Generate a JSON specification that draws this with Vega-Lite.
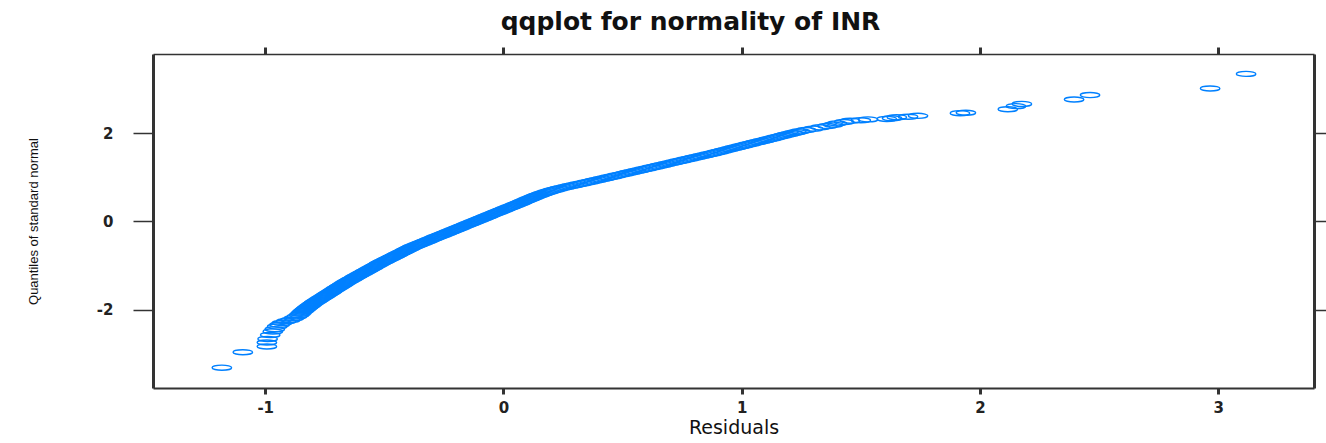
{
  "$schema": "https://vega.github.io/schema/vega-lite/v6.json",
  "autosize": {"type": "none"},
  "width": 1161,
  "height": 334,
  "padding": {"left": 153, "top": 54, "right": 12, "bottom": 55},
  "background": "white",
  "config": {"view": {"stroke": null}},
  "title": {"text": "qqplot for normality of INR", "font": "DejaVu Sans", "fontSize": 25, "fontWeight": "bold", "color": "#111111", "anchor": "middle", "frame": "group", "dx": -43, "offset": 11},
  "data": {"values": [
    {"res": -1.182, "qn": -3.31}, {"res": -1.094, "qn": -2.96}, {"res": -0.993, "qn": -2.83}, {"res": -0.993, "qn": -2.74},
    {"res": -0.99, "qn": -2.66}, {"res": -0.979, "qn": -2.57}, {"res": -0.968, "qn": -2.49}, {"res": -0.96, "qn": -2.44},
    {"res": -0.95, "qn": -2.38}, {"res": -0.94, "qn": -2.34}, {"res": -0.93, "qn": -2.30}, {"res": -0.912, "qn": -2.26},
    {"res": -0.895, "qn": -2.23}, {"res": -0.88, "qn": -2.19}, {"res": -0.867, "qn": -2.15}, {"res": -0.858, "qn": -2.12},
    {"res": -0.852, "qn": -2.09}, {"res": -0.848, "qn": -2.065},
    {"res": -0.843, "qn": -2.04}, {"res": -0.838, "qn": -2.02}, {"res": -0.834, "qn": -2.00}, {"res": -0.829, "qn": -1.98},
    {"res": -0.825, "qn": -1.96}, {"res": -0.820, "qn": -1.94}, {"res": -0.815, "qn": -1.92}, {"res": -0.810, "qn": -1.90},
    {"res": -0.805, "qn": -1.88}, {"res": -0.800, "qn": -1.86}, {"res": -0.795, "qn": -1.84}, {"res": -0.789, "qn": -1.82},
    {"res": -0.783, "qn": -1.80}, {"res": -0.777, "qn": -1.78}, {"res": -0.772, "qn": -1.76}, {"res": -0.766, "qn": -1.74},
    {"res": -0.760, "qn": -1.72}, {"res": -0.754, "qn": -1.70}, {"res": -0.748, "qn": -1.68}, {"res": -0.743, "qn": -1.66},
    {"res": -0.737, "qn": -1.64}, {"res": -0.731, "qn": -1.62}, {"res": -0.725, "qn": -1.60}, {"res": -0.719, "qn": -1.58},
    {"res": -0.714, "qn": -1.56}, {"res": -0.708, "qn": -1.54}, {"res": -0.702, "qn": -1.52}, {"res": -0.696, "qn": -1.50},
    {"res": -0.690, "qn": -1.48}, {"res": -0.684, "qn": -1.46}, {"res": -0.678, "qn": -1.44}, {"res": -0.672, "qn": -1.42},
    {"res": -0.667, "qn": -1.40}, {"res": -0.661, "qn": -1.38}, {"res": -0.655, "qn": -1.36}, {"res": -0.648, "qn": -1.34},
    {"res": -0.642, "qn": -1.32}, {"res": -0.635, "qn": -1.30}, {"res": -0.628, "qn": -1.28}, {"res": -0.622, "qn": -1.26},
    {"res": -0.615, "qn": -1.24}, {"res": -0.608, "qn": -1.22}, {"res": -0.602, "qn": -1.20}, {"res": -0.595, "qn": -1.18},
    {"res": -0.588, "qn": -1.16}, {"res": -0.582, "qn": -1.14}, {"res": -0.575, "qn": -1.12}, {"res": -0.568, "qn": -1.10},
    {"res": -0.562, "qn": -1.08}, {"res": -0.555, "qn": -1.06}, {"res": -0.548, "qn": -1.04}, {"res": -0.542, "qn": -1.02},
    {"res": -0.535, "qn": -1.00}, {"res": -0.528, "qn": -0.98}, {"res": -0.522, "qn": -0.96}, {"res": -0.515, "qn": -0.94},
    {"res": -0.508, "qn": -0.92}, {"res": -0.500, "qn": -0.90}, {"res": -0.493, "qn": -0.88}, {"res": -0.486, "qn": -0.86},
    {"res": -0.478, "qn": -0.84}, {"res": -0.471, "qn": -0.82}, {"res": -0.464, "qn": -0.80}, {"res": -0.456, "qn": -0.78},
    {"res": -0.449, "qn": -0.76}, {"res": -0.442, "qn": -0.74}, {"res": -0.434, "qn": -0.72}, {"res": -0.427, "qn": -0.70},
    {"res": -0.419, "qn": -0.68}, {"res": -0.412, "qn": -0.66}, {"res": -0.405, "qn": -0.64}, {"res": -0.397, "qn": -0.62},
    {"res": -0.390, "qn": -0.60}, {"res": -0.383, "qn": -0.58}, {"res": -0.374, "qn": -0.56}, {"res": -0.365, "qn": -0.54},
    {"res": -0.356, "qn": -0.52}, {"res": -0.347, "qn": -0.50}, {"res": -0.338, "qn": -0.48}, {"res": -0.329, "qn": -0.46},
    {"res": -0.320, "qn": -0.44}, {"res": -0.311, "qn": -0.42}, {"res": -0.302, "qn": -0.40}, {"res": -0.293, "qn": -0.38},
    {"res": -0.284, "qn": -0.36}, {"res": -0.275, "qn": -0.34}, {"res": -0.265, "qn": -0.32}, {"res": -0.256, "qn": -0.30},
    {"res": -0.247, "qn": -0.28}, {"res": -0.238, "qn": -0.26}, {"res": -0.229, "qn": -0.24}, {"res": -0.220, "qn": -0.22},
    {"res": -0.211, "qn": -0.20}, {"res": -0.202, "qn": -0.18}, {"res": -0.193, "qn": -0.16}, {"res": -0.184, "qn": -0.14},
    {"res": -0.175, "qn": -0.12}, {"res": -0.166, "qn": -0.10}, {"res": -0.157, "qn": -0.08}, {"res": -0.147, "qn": -0.06},
    {"res": -0.138, "qn": -0.04}, {"res": -0.129, "qn": -0.02}, {"res": -0.120, "qn": 0.00}, {"res": -0.111, "qn": 0.02},
    {"res": -0.102, "qn": 0.04}, {"res": -0.093, "qn": 0.06}, {"res": -0.084, "qn": 0.08}, {"res": -0.075, "qn": 0.10},
    {"res": -0.066, "qn": 0.12}, {"res": -0.057, "qn": 0.14}, {"res": -0.048, "qn": 0.16}, {"res": -0.039, "qn": 0.18},
    {"res": -0.029, "qn": 0.20}, {"res": -0.020, "qn": 0.22}, {"res": -0.011, "qn": 0.24}, {"res": -0.002, "qn": 0.26},
    {"res": 0.007, "qn": 0.28}, {"res": 0.016, "qn": 0.30}, {"res": 0.025, "qn": 0.32}, {"res": 0.034, "qn": 0.34},
    {"res": 0.043, "qn": 0.36}, {"res": 0.052, "qn": 0.38}, {"res": 0.061, "qn": 0.40}, {"res": 0.070, "qn": 0.42},
    {"res": 0.079, "qn": 0.44}, {"res": 0.087, "qn": 0.46}, {"res": 0.096, "qn": 0.48}, {"res": 0.105, "qn": 0.50},
    {"res": 0.114, "qn": 0.52}, {"res": 0.123, "qn": 0.54}, {"res": 0.131, "qn": 0.56}, {"res": 0.140, "qn": 0.58},
    {"res": 0.150, "qn": 0.60}, {"res": 0.160, "qn": 0.62}, {"res": 0.170, "qn": 0.64}, {"res": 0.181, "qn": 0.66},
    {"res": 0.192, "qn": 0.68}, {"res": 0.204, "qn": 0.70}, {"res": 0.217, "qn": 0.72}, {"res": 0.231, "qn": 0.74},
    {"res": 0.246, "qn": 0.76}, {"res": 0.262, "qn": 0.78}, {"res": 0.279, "qn": 0.80}, {"res": 0.296, "qn": 0.82},
    {"res": 0.313, "qn": 0.84}, {"res": 0.330, "qn": 0.86}, {"res": 0.347, "qn": 0.88}, {"res": 0.363, "qn": 0.90},
    {"res": 0.379, "qn": 0.92}, {"res": 0.395, "qn": 0.94}, {"res": 0.411, "qn": 0.96}, {"res": 0.427, "qn": 0.98},
    {"res": 0.443, "qn": 1.00}, {"res": 0.459, "qn": 1.02}, {"res": 0.475, "qn": 1.04}, {"res": 0.492, "qn": 1.06},
    {"res": 0.508, "qn": 1.08}, {"res": 0.524, "qn": 1.10}, {"res": 0.540, "qn": 1.12}, {"res": 0.556, "qn": 1.14},
    {"res": 0.572, "qn": 1.16}, {"res": 0.588, "qn": 1.18}, {"res": 0.604, "qn": 1.20}, {"res": 0.620, "qn": 1.22},
    {"res": 0.636, "qn": 1.24}, {"res": 0.652, "qn": 1.26}, {"res": 0.668, "qn": 1.28}, {"res": 0.684, "qn": 1.30},
    {"res": 0.700, "qn": 1.32}, {"res": 0.716, "qn": 1.34}, {"res": 0.733, "qn": 1.36}, {"res": 0.749, "qn": 1.38},
    {"res": 0.765, "qn": 1.40}, {"res": 0.781, "qn": 1.42}, {"res": 0.797, "qn": 1.44}, {"res": 0.813, "qn": 1.46},
    {"res": 0.829, "qn": 1.48}, {"res": 0.845, "qn": 1.50}, {"res": 0.861, "qn": 1.52}, {"res": 0.877, "qn": 1.54},
    {"res": 0.892, "qn": 1.56}, {"res": 0.906, "qn": 1.58}, {"res": 0.921, "qn": 1.60}, {"res": 0.936, "qn": 1.62},
    {"res": 0.950, "qn": 1.64}, {"res": 0.965, "qn": 1.66}, {"res": 0.980, "qn": 1.68}, {"res": 0.995, "qn": 1.70},
    {"res": 1.009, "qn": 1.72}, {"res": 1.024, "qn": 1.74}, {"res": 1.039, "qn": 1.76}, {"res": 1.053, "qn": 1.78},
    {"res": 1.068, "qn": 1.80}, {"res": 1.083, "qn": 1.82}, {"res": 1.098, "qn": 1.84}, {"res": 1.112, "qn": 1.86},
    {"res": 1.127, "qn": 1.88}, {"res": 1.142, "qn": 1.90}, {"res": 1.157, "qn": 1.92}, {"res": 1.171, "qn": 1.94},
    {"res": 1.186, "qn": 1.96}, {"res": 1.201, "qn": 1.98}, {"res": 1.215, "qn": 2.00}, {"res": 1.230, "qn": 2.02},
    {"res": 1.245, "qn": 2.04}, {"res": 1.27, "qn": 2.07}, {"res": 1.30, "qn": 2.10}, {"res": 1.33, "qn": 2.13},
    {"res": 1.36, "qn": 2.16}, {"res": 1.384, "qn": 2.19}, {"res": 1.40, "qn": 2.22}, {"res": 1.43, "qn": 2.25},
    {"res": 1.455, "qn": 2.28}, {"res": 1.50, "qn": 2.29}, {"res": 1.53, "qn": 2.31}, {"res": 1.609, "qn": 2.32},
    {"res": 1.631, "qn": 2.335}, {"res": 1.651, "qn": 2.36}, {"res": 1.698, "qn": 2.37}, {"res": 1.74, "qn": 2.39},
    {"res": 1.916, "qn": 2.45}, {"res": 1.941, "qn": 2.46}, {"res": 2.117, "qn": 2.54}, {"res": 2.151, "qn": 2.61},
    {"res": 2.176, "qn": 2.66}, {"res": 2.395, "qn": 2.76}, {"res": 2.462, "qn": 2.86}, {"res": 2.966, "qn": 3.01},
    {"res": 3.117, "qn": 3.34}
  ]},
  "layer": [
    {
      "mark": {"type": "point", "shape": "M-1 0A1 0.26 0 1 0 1 0A1 0.26 0 1 0 -1 0Z", "size": 380, "filled": false, "stroke": "#0080ff", "strokeWidth": 1.4, "opacity": 1},
      "encoding": {
        "x": {"field": "res", "type": "quantitative",
          "scale": {"domain": [-1.471, 3.402], "nice": false, "zero": false},
          "axis": {"orient": "bottom", "values": [-1, 0, 1, 2, 3], "grid": false,
            "domainColor": "#333333", "domainWidth": 2, "tickColor": "#333333", "tickWidth": 3, "tickSize": 6,
            "labelFont": "DejaVu Sans", "labelFontSize": 15, "labelFontWeight": "bold", "labelColor": "#222222", "labelPadding": 6, "labelFlush": false, "labelOverlap": false,
            "labelExpr": "datum.value < 0 ? '-' + abs(datum.value) : '' + datum.value",
            "title": "Residuals", "titleFont": "DejaVu Sans", "titleFontSize": 19, "titleFontWeight": "normal", "titleColor": "#111111", "titlePadding": 3}},
        "y": {"field": "qn", "type": "quantitative",
          "scale": {"domain": [-3.77, 3.79], "nice": false, "zero": false},
          "axis": {"orient": "left", "values": [-2, 0, 2], "grid": false,
            "domainColor": "#333333", "domainWidth": 3, "tickColor": "#333333", "tickWidth": 1.5, "tickSize": 20,
            "labelFont": "DejaVu Sans", "labelFontSize": 15, "labelFontWeight": "bold", "labelColor": "#222222", "labelPadding": 20, "labelFlush": false, "labelOverlap": false,
            "labelExpr": "datum.value < 0 ? '-' + abs(datum.value) : '' + datum.value",
            "title": "Quantiles of standard normal", "titleFont": "Liberation Sans", "titleFontSize": 13, "titleFontWeight": "normal", "titleColor": "#111111", "titlePadding": 56}}
      }
    },
    {
      "mark": {"type": "point", "opacity": 0},
      "encoding": {
        "x": {"field": "res", "type": "quantitative",
          "scale": {"domain": [-1.471, 3.402], "nice": false, "zero": false},
          "axis": {"orient": "top", "values": [-1, 0, 1, 2, 3], "grid": false, "labels": false, "title": null,
            "domainColor": "#333333", "domainWidth": 1.5, "tickColor": "#333333", "tickWidth": 3, "tickSize": 7}},
        "y": {"field": "qn", "type": "quantitative",
          "scale": {"domain": [-3.77, 3.79], "nice": false, "zero": false},
          "axis": {"orient": "right", "values": [-2, 0, 2], "grid": false, "labels": false, "title": null,
            "domainColor": "#333333", "domainWidth": 3, "tickColor": "#333333", "tickWidth": 1.5, "tickSize": 12}}
      }
    }
  ],
  "resolve": {"axis": {"x": "independent", "y": "independent"}}
}
